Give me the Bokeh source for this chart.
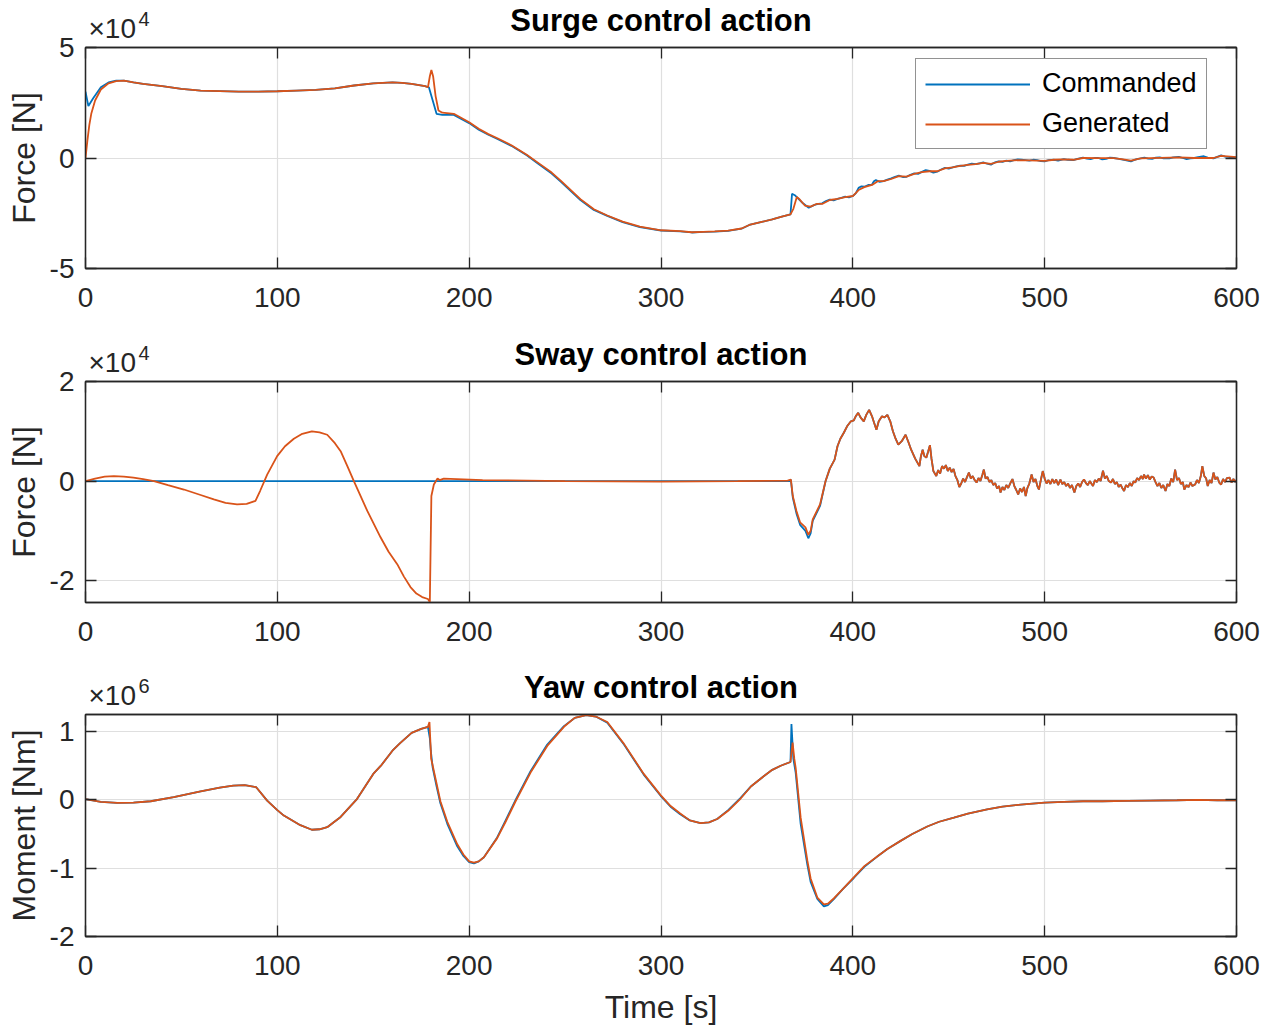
from bokeh.plotting import figure
from bokeh.layouts import column, row
from bokeh.models import (Range1d, FixedTicker, LinearAxis, Legend, LegendItem,
                          ColumnDataSource)
from bokeh.core.properties import value
from bokeh.embed import file_html
from bokeh.resources import INLINE

# ---------------- data ----------------
x_ticks = [0, 100, 200, 300, 400, 500, 600]
series_names = ["Commanded", "Generated"]
titles = ["Surge control action", "Sway control action", "Yaw control action"]
y_labels = ["Force [N]", "Force [N]", "Moment [Nm]"]
x_label = "Time [s]"
exponents = ["4", "4", "6"]
surge_ticks = [-5, 0, 5]
sway_ticks = [-2, 0, 2]
yaw_ticks = [-2, -1, 0, 1]

# Surge force, units of 1e4 N
surge_cmd_t = [0, 1.5, 4, 8, 12, 16, 20, 25, 30, 40, 50, 60, 70, 80, 90, 100, 110, 120,
               130, 140, 150, 160, 165, 170, 177, 179, 181, 183, 186, 192, 200, 205, 210,
               215, 222, 230, 236, 243, 248, 258, 265, 272, 280, 289, 300, 310, 316, 322,
               328, 335, 342, 346, 352, 358, 363, 367.5, 368.3, 370, 374, 377,
               380, 382, 384, 386, 388, 390, 392, 394, 396, 398, 400, 401.5, 403, 404.5,
               406, 408, 410, 411, 412, 414, 416, 418, 420, 422, 424, 426, 428, 430, 432,
               434, 436, 438, 440, 442, 444, 446, 448, 450, 452, 454, 456, 458, 460, 462,
               464, 466, 468, 470, 472, 474, 476, 478, 480, 482, 484, 486, 488, 490, 492,
               494, 496, 498, 500, 502, 505, 507, 510, 512, 515, 517, 520, 522, 524, 526,
               528, 530, 532, 534, 536, 538, 540, 542, 545, 546.5, 548, 550, 552, 554, 556,
               558, 560, 562, 565, 567, 570, 572, 574, 576, 578, 580, 583, 585, 588, 590,
               592, 594, 596, 598, 600]
surge_cmd = [3.0, 2.35, 2.7, 3.2, 3.42, 3.5, 3.5, 3.42, 3.35, 3.25, 3.13, 3.05, 3.03, 3.0,
             3.0, 3.02, 3.05, 3.08, 3.15, 3.28, 3.38, 3.42, 3.4, 3.35, 3.25, 3.2, 2.6, 2.0,
             1.95, 1.95, 1.58, 1.28, 1.05, 0.85, 0.55, 0.12, -0.26, -0.7, -1.09, -1.9,
             -2.35, -2.62, -2.9, -3.13, -3.28, -3.32, -3.37, -3.34, -3.33, -3.3, -3.2,
             -3.03, -2.9, -2.78, -2.65, -2.55, -1.62, -1.7, -2.05, -2.25,
             -2.12, -2.08, -2.05, -1.95, -1.88, -1.92, -1.85, -1.8, -1.75, -1.78, -1.72,
             -1.6, -1.35, -1.28, -1.3, -1.22, -1.2, -1.05, -1.0, -1.08, -1.05, -0.98,
             -0.92, -0.85, -0.8, -0.86, -0.85, -0.76, -0.7, -0.72, -0.63, -0.55, -0.58,
             -0.66, -0.62, -0.52, -0.45, -0.48, -0.42, -0.38, -0.35, -0.36, -0.3, -0.25,
             -0.28, -0.24, -0.2, -0.26, -0.3, -0.2, -0.15, -0.18, -0.12, -0.15, -0.1,
             -0.06, -0.08, -0.1, -0.12, -0.08, -0.1, -0.14, -0.15, -0.1, -0.08, -0.12,
             -0.05, -0.08, -0.1, -0.04, 0.02, -0.03, -0.05, 0.0, 0.0, -0.06, -0.04, 0.02,
             0.0, -0.03, -0.06, -0.1, -0.15, -0.1, -0.05, -0.02, 0.02, -0.03, -0.04, 0.02,
             0.03, -0.02, -0.02, 0.03, 0.05, 0.0, -0.05, -0.02, 0.0, 0.04, 0.08, 0.02,
             -0.02, 0.05, 0.12, 0.06, 0.05, 0.01, 0.05]

surge_gen_t = [0, 1, 2, 3, 5, 8, 12, 16, 20, 25, 30, 40, 50, 60, 70, 80, 90, 100, 110, 120,
               130, 140, 150, 160, 165, 170, 177, 178.5, 179.5, 180.3, 181.2, 182.5, 184,
               186, 192, 200, 205, 210, 215, 222, 230, 236, 243, 248, 258, 265, 272, 280,
               289, 300, 310, 316, 322, 328, 335, 342, 346, 352, 358, 363, 367.5, 369,
               370.8, 372, 375, 378, 381, 384, 388, 392, 396, 400, 403, 406, 410, 413, 416,
               420, 424, 428, 432, 436, 440, 444, 448, 452, 456, 460, 464, 468, 472, 476,
               480, 486, 492, 500, 505, 510, 515, 520, 528, 536, 540, 545, 550, 560, 570,
               578, 588, 592, 600]
surge_gen = [0.0, 0.8, 1.5, 2.0, 2.6, 3.1, 3.38, 3.48, 3.5, 3.42, 3.35, 3.25, 3.13, 3.05,
             3.03, 3.0, 3.0, 3.02, 3.05, 3.08, 3.15, 3.28, 3.38, 3.42, 3.4, 3.35, 3.25, 3.2,
             3.7, 3.98, 3.7, 2.8, 2.15, 2.05, 2.0, 1.62, 1.32, 1.08, 0.88, 0.58, 0.15,
             -0.22, -0.66, -1.05, -1.86, -2.32, -2.6, -2.88, -3.11, -3.27, -3.31, -3.36,
             -3.34, -3.32, -3.29, -3.19, -3.03, -2.9, -2.78, -2.65, -2.55, -2.3, -1.76,
             -1.85, -2.15, -2.2, -2.08, -2.08, -1.9, -1.85, -1.77, -1.72, -1.45, -1.32,
             -1.22, -1.05, -1.05, -0.95, -0.82, -0.84, -0.72, -0.64, -0.6, -0.6, -0.47,
             -0.42, -0.36, -0.31, -0.28, -0.22, -0.27, -0.17, -0.13, -0.1, -0.11, -0.13,
             -0.08, -0.06, -0.08, 0.0, -0.01, -0.01, -0.05, -0.12, -0.02, 0.01, 0.03, 0.0,
             0.0, 0.1, 0.04]

# Sway force, units of 1e4 N
sway_cmd_head_t = [0, 100, 200, 300, 367.5, 367.7, 368.7, 370.6, 372.5, 375.3, 376.8,
                   378, 379.1, 382.9]
sway_cmd_head = [0.0, 0.0, 0.0, 0.0, 0.0, 0.03, -0.33, -0.65, -0.88, -1.0, -1.15, -1.05,
                 -0.8, -0.5]
sway_gen_head_t = [0, 5, 10, 14.8, 20, 25, 30, 35.7, 43, 51.3, 60, 66.9, 73, 79, 84, 88.6,
                   91, 94.7, 99.9, 104, 108.6, 113, 118, 122, 126, 130, 133, 136.5, 139.9,
                   146.9, 153.8, 158, 162.5, 166, 169.4, 172.5, 175.5, 178.5, 179.5, 180.3,
                   181.6, 183.5, 184.6, 186.8, 207, 250, 300, 340, 366, 367.7, 368.7,
                   370.6, 372.5, 375.3, 376.8, 378, 379.1, 382.9]
sway_gen_head = [0.0, 0.05, 0.09, 0.1, 0.09, 0.07, 0.04, 0.0, -0.08, -0.17, -0.28, -0.37,
                 -0.44, -0.47, -0.46, -0.4, -0.2, 0.13, 0.5, 0.7, 0.85, 0.95, 1.0, 0.98,
                 0.93, 0.76, 0.6, 0.3, 0.0, -0.6, -1.13, -1.42, -1.67, -1.92, -2.13, -2.26,
                 -2.33, -2.37, -2.43, -0.3, -0.07, 0.05, 0.02, 0.05, 0.02, 0.0, -0.01, 0.0,
                 0.01, 0.03, -0.3, -0.6, -0.83, -0.93, -1.08, -1.0, -0.77, -0.47]
# after ~385 s both sway curves lie on top of each other
sway_tail_t = [385.8, 388, 390.5, 392, 393.5, 395.3, 397, 399, 400.5, 401.5, 402.8, 404,
               405.7, 407, 408.5, 410, 411, 412.3, 413.5, 415.2, 416.5, 418, 419.5, 420.9,
               422.3, 423.7, 425.5, 427.5, 429, 430.4, 432.5, 434.7, 435.5, 436.4, 437.3,
               438.3, 439.3, 440.2, 441, 442, 443.5, 444.5, 445.5, 446.5, 447.5, 448.5,
               449.5, 450.5, 451.5, 452.5, 453.5, 454.5, 455.5, 456.5, 457.5, 458.5, 459.5,
               460.5, 461.5, 462.5, 463.5, 464.5, 465.5, 466.5, 467.5, 468.3, 469.2, 470.2,
               471.2, 472.2, 473.2, 474.2, 475.2, 476.2, 477, 478, 479, 480, 481, 482,
               483.2, 484.2, 485.2, 486.2, 487.2, 488.2, 489.2, 490.1, 491, 492, 493.2,
               494.2, 495.2, 496.2, 497, 498, 499, 500, 501, 502, 503, 504, 505, 506, 507,
               508.2, 509.2, 510.2, 511.2, 512.2, 513.2, 514.2, 515.5, 516.5, 517.5, 518.5,
               519.5, 520.5, 521.5, 522.5, 523.5, 524.5, 525.2, 526.2, 527.2, 528.2, 529.2,
               530.4, 531.4, 532.4, 533.4, 534.6, 535.6, 536.6, 537.6, 538.6, 539.6, 540.6,
               541.4, 542.4, 543.4, 544.4, 545.4, 546.4, 547.2, 548.2, 549.2, 550.2, 551.2,
               551.8, 552.8, 553.8, 554.8, 555.8, 556.8, 557.8, 558.8, 559.8, 560.8, 561.8,
               563, 564, 565, 566, 567, 568, 569, 570, 571, 572, 572.8, 574, 575, 576, 577,
               578.4, 579.4, 580.4, 581.4, 582.2, 583.2, 584.2, 585, 586, 587, 588, 589, 590,
               591, 592, 593, 594, 595, 596.4, 597.4, 598.4, 599.4, 600]
sway_tail = [0.0, 0.25, 0.43, 0.7, 0.85, 0.97, 1.1, 1.2, 1.22, 1.3, 1.37, 1.28, 1.2, 1.33,
             1.43, 1.3, 1.18, 1.03, 1.2, 1.3, 1.28, 1.33, 1.2, 1.0, 0.85, 0.73, 0.8, 0.93,
             0.78, 0.63, 0.45, 0.3, 0.5, 0.63, 0.5, 0.47, 0.6, 0.72, 0.45, 0.2, 0.1, 0.22,
             0.15, 0.3, 0.25, 0.32, 0.2, 0.27, 0.18, 0.24, 0.1, 0.02, -0.12, -0.05, 0.05,
             -0.02, 0.08, 0.17, 0.05, 0.1, 0.02, -0.03, 0.06, 0.0, 0.12, 0.23, 0.05, 0.08,
             -0.02, 0.02, -0.08, -0.04, -0.15, -0.1, -0.23, -0.12, -0.18, -0.08, -0.14,
             -0.05, 0.04, -0.1, -0.18, -0.27, -0.15, -0.22, -0.12, -0.3, -0.14, -0.05, 0.13,
             -0.02, 0.04, -0.1, -0.17, 0.02, 0.2, 0.05, -0.05, 0.02, -0.06, 0.04, -0.04,
             0.03, -0.08, 0.03, -0.06, -0.02, -0.1, -0.05, -0.14, -0.08, -0.23, -0.1, -0.05,
             -0.12, -0.02, 0.03, -0.04, -0.08, 0.0, -0.06, -0.1, 0.02, -0.02, 0.05, 0.0,
             0.21, 0.05, 0.1, 0.0, -0.03, 0.04, -0.06, -0.02, -0.12, -0.07, -0.15, -0.2,
             -0.08, -0.12, -0.04, -0.1, 0.0, -0.03, 0.06, 0.02, 0.1, 0.04, 0.13, 0.05, 0.12,
             0.03, 0.09, 0.07, -0.02, -0.1, -0.04, -0.14, -0.08, -0.2, -0.06, -0.1, 0.05,
             -0.02, 0.23, 0.02, 0.06, -0.06, -0.02, -0.17, -0.08, -0.12, -0.03, -0.1, -0.07,
             0.02, -0.04, 0.1, 0.3, 0.1, 0.05, -0.1, 0.02, -0.04, 0.17, 0.03, 0.08, -0.03,
             -0.07, 0.04, -0.02, 0.06, 0.07, -0.03, 0.04, -0.02, 0.02]
sway_cmd_t = sway_cmd_head_t + sway_tail_t
sway_cmd = sway_cmd_head + sway_tail
sway_gen_t = sway_gen_head_t + sway_tail_t
sway_gen = sway_gen_head + sway_tail

# Yaw moment, units of 1e6 Nm
yaw_cmd_t = [0, 8, 16.5, 25, 34, 46, 60, 70, 77, 83, 89, 94.7, 100, 103.4, 112, 118, 122,
             126, 133, 141.6, 150, 154, 160, 164, 170, 175, 178.5, 179.5, 180, 181, 183,
             185, 188.6, 193.8, 197, 200, 202.5, 205, 207.7, 214.6, 219, 224.2, 232, 240.7,
             249.4, 255, 261, 266, 272, 280.7, 291, 299.8, 305, 310, 315, 320.6, 325,
             329.3, 335, 341.5, 347, 353.7, 358, 362.4, 367.5, 368, 369, 370.2, 372.8,
             376.3, 378, 381.5, 384.9, 387, 390.2, 395, 400.6, 406, 412.7, 418, 424.9, 431,
             438.8, 445, 452.7, 460, 470, 478, 487.5, 500, 510, 520, 530, 543, 555, 569,
             580, 590, 600]
yaw_cmd = [0.01, -0.03, -0.045, -0.04, -0.02, 0.04, 0.126, 0.18, 0.21, 0.215, 0.185, -0.01,
           -0.15, -0.23, -0.37, -0.437, -0.43, -0.4, -0.25, 0.015, 0.38, 0.5, 0.72, 0.83,
           0.98, 1.04, 1.07, 0.9, 0.72, 0.47, 0.2, -0.05, -0.35, -0.68, -0.82, -0.91, -0.93,
           -0.9, -0.84, -0.55, -0.3, 0.0, 0.42, 0.81, 1.08, 1.2, 1.24, 1.22, 1.13, 0.81,
           0.37, 0.06, -0.1, -0.21, -0.3, -0.34, -0.33, -0.28, -0.15, 0.03, 0.2, 0.35, 0.44,
           0.5, 0.555, 1.11, 0.6, 0.4, -0.35, -0.95, -1.2, -1.45, -1.56, -1.54, -1.45, -1.3,
           -1.14, -0.98, -0.83, -0.72, -0.6, -0.5, -0.39, -0.32, -0.26, -0.2, -0.14, -0.1,
           -0.07, -0.04, -0.03, -0.02, -0.02, -0.015, -0.01, -0.005, 0.0, -0.005, -0.005]

yaw_gen_t = [0, 8, 16.5, 25, 34, 46, 60, 70, 77, 83, 89, 94.7, 100, 103.4, 112, 118, 122,
             126, 133, 141.6, 150, 154, 160, 164, 170, 175, 178.5, 179.3, 180.2, 181, 183,
             185, 188.6, 193.8, 197, 200, 202.5, 205, 207.7, 214.6, 219, 224.2, 232, 240.7,
             249.4, 255, 261, 266, 272, 280.7, 291, 299.8, 305, 310, 315, 320.6, 325,
             329.3, 335, 341.5, 347, 353.7, 358, 362.4, 367.5, 368.6, 369.5, 370.2, 372.8,
             376.3, 378, 381.5, 384.9, 387, 390.2, 395, 400.6, 406, 412.7, 418, 424.9, 431,
             438.8, 445, 452.7, 460, 470, 478, 487.5, 500, 510, 520, 530, 543, 555, 569,
             580, 590, 600]
yaw_gen = [0.01, -0.03, -0.045, -0.04, -0.02, 0.04, 0.126, 0.18, 0.21, 0.215, 0.185, -0.01,
           -0.15, -0.23, -0.37, -0.437, -0.43, -0.4, -0.25, 0.015, 0.38, 0.5, 0.72, 0.83,
           0.98, 1.04, 1.07, 1.14, 0.6, 0.5, 0.24, -0.02, -0.32, -0.65, -0.8, -0.9, -0.92,
           -0.9, -0.84, -0.56, -0.32, -0.02, 0.4, 0.79, 1.07, 1.2, 1.24, 1.22, 1.14, 0.82,
           0.38, 0.07, -0.09, -0.2, -0.3, -0.34, -0.33, -0.28, -0.16, 0.02, 0.2, 0.35, 0.44,
           0.5, 0.555, 0.84, 0.6, 0.47, -0.26, -0.89, -1.15, -1.43, -1.53, -1.52, -1.44,
           -1.3, -1.13, -0.97, -0.83, -0.72, -0.6, -0.5, -0.39, -0.32, -0.26, -0.2, -0.14,
           -0.1, -0.07, -0.04, -0.03, -0.02, -0.02, -0.015, -0.01, -0.005, 0.0, -0.005,
           -0.005]

# ---------------- styling / layout ----------------
FONT = "Liberation Sans"
AX = "#262626"
BLUE = "#0072BD"
ORANGE = "#D95319"
GRID = "#dfdfdf"
W = 1273
AXIS_X = 85            # page x of the plot frames' left edge
LEFT_W = 76            # width of the strip carrying the y tick labels / y label
RIGHT = 37
FRAME_W = W - AXIS_X - RIGHT
INNER_L = AXIS_X - LEFT_W
TOPB = 2
MID = 0.3465  # (ascent - descent) / 2 of the font, in em: baseline-to-centre distance


def style_axis(ax):
    ax.axis_line_color = AX
    ax.axis_line_width = 1.3
    ax.major_tick_line_color = AX
    ax.major_tick_line_width = 1.3
    ax.major_tick_in = 11
    ax.major_tick_out = 0
    ax.minor_tick_in = 0
    ax.minor_tick_out = 0


def hide_labels(ax):
    ax.major_label_text_font_size = "0px"
    ax.major_label_text_color = None
    ax.major_label_standoff = 0


def make_header(height, title, exponent):
    h = figure(frame_width=FRAME_W, frame_height=height, title=None,
               x_range=Range1d(0, 600), y_range=Range1d(0, height),
               x_axis_type=None, y_axis_type=None, output_backend="svg",
               toolbar_location=None, min_border=0, min_border_left=INNER_L,
               min_border_right=RIGHT, min_border_top=0, min_border_bottom=0)
    h.outline_line_color = None
    h.background_fill_color = "white"
    h.border_fill_color = "white"
    # y: pixels from the bottom of this header strip (text centred vertically)
    h.text(x=[300], y=[16 - TOPB + MID * 31], text=[title], text_align="center",
           text_baseline="middle", text_font=value(FONT), text_font_size="31px",
           text_font_style="bold", text_color="black")
    h.text(x=[0], y=[9 - TOPB + MID * 28], text=["\u00d710"], x_offset=3,
           text_align="left", text_baseline="middle", text_font=value(FONT),
           text_font_size="28px", text_color=AX)
    h.text(x=[0], y=[22 - TOPB + MID * 20], text=[exponent], x_offset=53,
           text_align="left", text_baseline="middle", text_font=value(FONT),
           text_font_size="20px", text_color=AX)
    return h


def make_left(height, top, bottom, yr, yticks, ylabel):
    q = figure(width=LEFT_W, height=height, x_range=Range1d(0, 1), y_range=Range1d(*yr),
               x_axis_type=None, title=None, output_backend="svg",
               toolbar_location=None, min_border=0, min_border_left=LEFT_W - 1,
               min_border_right=0, min_border_top=top, min_border_bottom=bottom)
    q.outline_line_color = None
    q.background_fill_color = "white"
    q.border_fill_color = "white"
    q.ygrid.visible = False
    ax = q.yaxis[0]
    ax.ticker = FixedTicker(ticks=yticks)
    ax.major_label_overrides = {v: str(v) for v in yticks}
    ax.axis_line_color = None
    ax.major_tick_line_color = None
    ax.major_tick_in = 0
    ax.major_tick_out = 0
    ax.minor_tick_in = 0
    ax.minor_tick_out = 0
    ax.major_label_standoff = 1
    ax.major_label_text_font = FONT
    ax.major_label_text_font_size = "28px"
    ax.major_label_text_color = AX
    ax.axis_label = ylabel
    ax.axis_label_standoff = 5
    ax.axis_label_text_font = FONT
    ax.axis_label_text_font_size = "32px"
    ax.axis_label_text_font_style = "normal"
    ax.axis_label_text_color = AX
    return q


def make_fig(frame_h, bottom, yr, yticks, xlabel=None):
    p = figure(width=W - LEFT_W, height=TOPB + frame_h + bottom, x_range=Range1d(0, 600),
               y_range=Range1d(*yr), output_backend="svg", toolbar_location=None,
               title=None, min_border=0, min_border_left=INNER_L,
               min_border_right=RIGHT, min_border_top=TOPB, min_border_bottom=bottom)
    p.background_fill_color = "white"
    p.border_fill_color = "white"
    p.outline_line_color = AX
    p.outline_line_width = 1.3

    p.xaxis.ticker = FixedTicker(ticks=x_ticks)
    p.yaxis.ticker = FixedTicker(ticks=yticks)
    p.xgrid.ticker = FixedTicker(ticks=x_ticks)
    p.ygrid.ticker = FixedTicker(ticks=yticks)
    p.xaxis.major_label_overrides = {v: str(v) for v in x_ticks}
    for g in (p.xgrid, p.ygrid):
        g.grid_line_color = GRID
        g.grid_line_width = 1.2

    style_axis(p.xaxis[0])
    style_axis(p.yaxis[0])
    hide_labels(p.yaxis[0])
    p.xaxis.major_label_text_font = FONT
    p.xaxis.major_label_text_font_size = "28px"
    p.xaxis.major_label_text_color = AX
    p.xaxis.major_label_standoff = 19
    if xlabel:
        p.xaxis.axis_label = xlabel
        p.xaxis.axis_label_standoff = 11
        p.xaxis.axis_label_text_font = FONT
        p.xaxis.axis_label_text_font_size = "32px"
        p.xaxis.axis_label_text_font_style = "normal"
        p.xaxis.axis_label_text_color = AX

    # mirrored ticks on top and right (MATLAB box)
    top_ax = LinearAxis(ticker=FixedTicker(ticks=x_ticks))
    right_ax = LinearAxis(ticker=FixedTicker(ticks=yticks))
    for ax in (top_ax, right_ax):
        style_axis(ax)
        hide_labels(ax)
    p.add_layout(top_ax, "above")
    p.add_layout(right_ax, "right")
    return p


def add_lines(p, t1, v1, t2, v2):
    r1 = p.line(x="t", y="v", source=ColumnDataSource(dict(t=t1, v=v1)),
                line_color=BLUE, line_width=1.8)
    r2 = p.line(x="t", y="v", source=ColumnDataSource(dict(t=t2, v=v2)),
                line_color=ORANGE, line_width=1.8)
    return r1, r2


def panel(header_h, frame_h, bottom, yr, yticks, ylabel, title, exponent, xlabel=None):
    h = make_header(header_h, title, exponent)
    p = make_fig(frame_h, bottom, yr, yticks, xlabel)
    total = header_h + TOPB + frame_h + bottom
    q = make_left(total, header_h + TOPB, bottom, yr, yticks, ylabel)
    return p, row(q, column(h, p, spacing=0), spacing=0)


# frame tops in the page: 47, 381, 714; frame heights 221, 221, 222
B1, B2, B3 = 66, 60, 92
H1 = 47 - TOPB
H2 = 381 - (47 + 221 + B1) - TOPB
H3 = 714 - (381 + 221 + B2) - TOPB

p1, block1 = panel(H1, 221, B1, (-5, 5), surge_ticks, y_labels[0], titles[0],
                   exponents[0])
r1, r2 = add_lines(p1, surge_cmd_t, surge_cmd, surge_gen_t, surge_gen)
legend = Legend(items=[LegendItem(label=series_names[0], renderers=[r1]),
                       LegendItem(label=series_names[1], renderers=[r2])],
                location=(830, 119), orientation="vertical")
legend.border_line_color = AX
legend.border_line_width = 1.3
legend.background_fill_color = "white"
legend.background_fill_alpha = 1
legend.label_text_font = FONT
legend.label_text_font_size = "27px"
legend.label_text_color = "black"
legend.glyph_width = 105
legend.glyph_height = 30
legend.label_height = 30
legend.label_standoff = 12
legend.spacing = 9
legend.padding = 9
legend.margin = 0
p1.add_layout(legend, "center")

p2, block2 = panel(H2, 221, B2, (-2.44, 2), sway_ticks, y_labels[1], titles[1],
                   exponents[1])
add_lines(p2, sway_cmd_t, sway_cmd, sway_gen_t, sway_gen)

p3, block3 = panel(H3, 222, B3, (-2, 1.25), yaw_ticks, y_labels[2], titles[2],
                   exponents[2], xlabel=x_label)
add_lines(p3, yaw_cmd_t, yaw_cmd, yaw_gen_t, yaw_gen)

layout = column(block1, block2, block3, spacing=0)
open("out.html", "w").write(file_html(layout, INLINE))
